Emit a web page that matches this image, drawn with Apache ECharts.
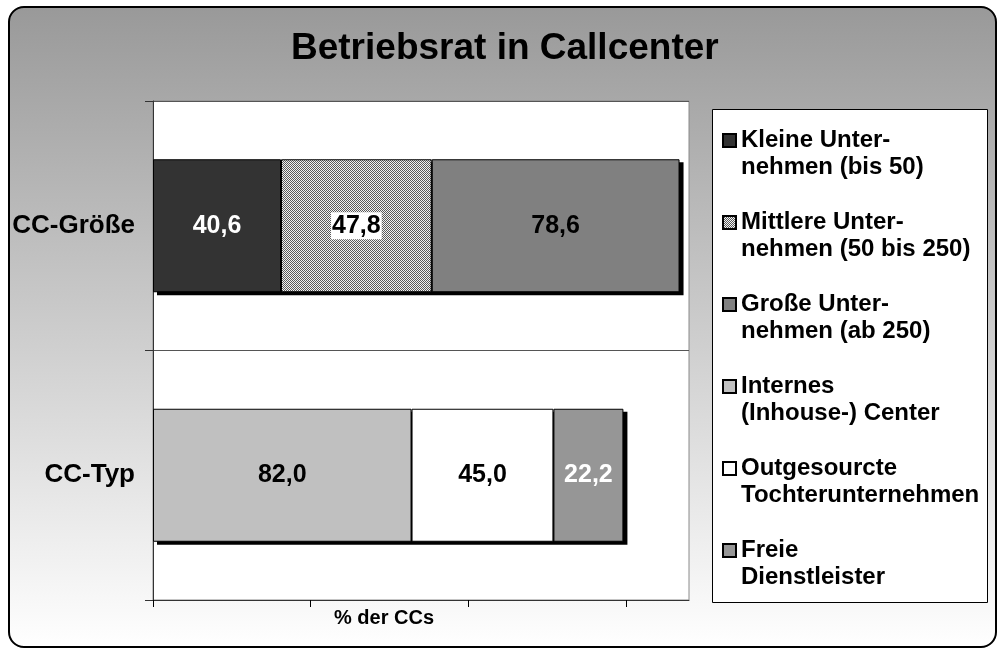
<!DOCTYPE html>
<html>
<head>
<meta charset="utf-8">
<script src="https://cdn.jsdelivr.net/npm/echarts@6/dist/echarts.min.js"></script>
<style>
html,body{margin:0;padding:0;background:#fff;}
#chart{width:998px;height:648px;}
</style>
</head>
<body>
<div id="chart"></div>
<script>
// ---- data ----
const titleText = 'Betriebsrat in Callcenter';
const categories = ['CC-Größe', 'CC-Typ'];
const seriesNames = [
  'Kleine Unter-\nnehmen (bis 50)',
  'Mittlere Unter-\nnehmen (50 bis 250)',
  'Große Unter-\nnehmen (ab 250)',
  'Internes\n(Inhouse-) Center',
  'Outgesourcte\nTochterunternehmen',
  'Freie\nDienstleister'
];
const kleine      = [40.6, null];
const mittlere    = [47.8, null];
const grosse      = [78.6, null];
const internes    = [null, 82.0];
const outgesourct = [null, 45.0];
const freie       = [null, 22.2];
const xTickValues = [0, 50, 100, 150];
const axisName = '% der CCs';

// ---- pattern for "Mittlere" ----
const pc = document.createElement('canvas');
pc.width = 2; pc.height = 2;
const pctx = pc.getContext('2d');
pctx.fillStyle = '#f2f2f2'; pctx.fillRect(0,0,2,2);
pctx.fillStyle = '#5a5a5a'; pctx.fillRect(0,0,1,1); pctx.fillRect(1,1,1,1);
const pattern = {image: pc, repeat: 'repeat'};

const FONT = 'Liberation Sans, Arial, Helvetica, sans-serif';
const fills = ['#333333', pattern, '#808080', '#c0c0c0', '#ffffff', '#969696'];
const labelColors = ['#fff', '#000', '#000', '#000', '#000', '#fff'];
const values = [kleine, mittlere, grosse, internes, outgesourct, freie];
const BAR_W = 133;

// totals per category (for the drop shadow behind each stacked bar)
const totals = categories.map((c, ci) => values.reduce((s, arr) => s + (arr[ci] || 0), 0));

const chart = echarts.init(document.getElementById('chart'), null, {renderer: 'canvas'});

const shadowSeries = {
  type: 'custom',
  silent: true,
  data: totals.map((t, i) => [t, i]),
  encode: {x: 0, y: 1},
  renderItem: (params, api) => {
    const end = api.coord([api.value(0), api.value(1)]);
    const start = api.coord([0, api.value(1)]);
    return {
      type: 'rect',
      shape: {x: start[0] + 4, y: end[1] - BAR_W / 2 + 3, width: end[0] - start[0], height: BAR_W},
      style: {fill: '#000'}
    };
  }
};

const series = values.map((v, i) => ({
  name: seriesNames[i],
  type: 'bar',
  stack: 'total',
  data: v,
  barWidth: BAR_W,
  itemStyle: {
    color: fills[i],
    borderColor: '#000',
    borderWidth: 1
  },
  label: {
    show: true,
    position: 'inside',
    fontFamily: FONT,
    fontWeight: 'bold',
    fontSize: 25,
    color: labelColors[i],
    backgroundColor: i === 1 ? '#fff' : 'transparent',
    padding: i === 1 ? [2, 1, 0, 1] : 0,
    formatter: p => p.value.toFixed(1).replace('.', ',')
  },
  emphasis: {disabled: true}
}));

chart.setOption({
  animation: false,
  backgroundColor: '#fff',
  graphic: [
    {
      type: 'rect', z: -10, silent: true,
      shape: {x: 9, y: 7, width: 987, height: 640, r: 15},
      style: {
        fill: new echarts.graphic.LinearGradient(0, 0, 0, 1, [
          {offset: 0, color: '#999999'},
          {offset: 1, color: '#ffffff'}
        ]),
        stroke: '#000', lineWidth: 2
      }
    },
    {
      type: 'rect', z: -5, silent: true,
      shape: {x: 712.5, y: 109.5, width: 275, height: 493},
      style: {fill: '#fff', stroke: '#000', lineWidth: 1}
    }
  ],
  title: {
    text: titleText,
    left: 291,
    top: 25,
    padding: [5, 0, 5, 0],
    textStyle: {fontFamily: FONT, fontWeight: 'bold', fontSize: 37, color: '#000'}
  },
  legend: {
    orient: 'vertical',
    left: 722,
    top: 100,
    padding: 0,
    itemWidth: 13,
    itemHeight: 13,
    itemGap: 1,
    icon: 'rect',
    selectedMode: false,
    data: seriesNames,
    formatter: name => '\n' + name,
    textStyle: {
      fontFamily: FONT, fontWeight: 'bold', fontSize: 24, color: '#000',
      lineHeight: 27
    }
  },
  grid: {
    left: 153, right: 309, top: 101, bottom: 48,
    show: true, backgroundColor: '#fff', borderColor: '#8a8a8a', borderWidth: 1,
    containLabel: false
  },
  xAxis: {
    type: 'value',
    min: 0, max: 170, interval: 50,
    name: axisName,
    nameLocation: 'middle',
    nameGap: 8,
    nameTextStyle: {
      fontFamily: FONT, fontWeight: 'bold', fontSize: 20, color: '#000',
      padding: [0, 74, 0, 0],
      verticalAlign: 'top'
    },
    axisLine: {show: true, lineStyle: {color: '#333', width: 1}},
    axisTick: {show: true, length: 7, inside: false, customValues: xTickValues, lineStyle: {color: '#000'}},
    axisLabel: {show: false},
    splitLine: {show: false}
  },
  yAxis: {
    type: 'category',
    inverse: true,
    data: categories,
    axisLine: {show: true, lineStyle: {color: '#333', width: 1}},
    axisTick: {show: true, length: 8, inside: false, alignWithLabel: false, lineStyle: {color: '#333'}},
    axisLabel: {fontFamily: FONT, fontWeight: 'bold', fontSize: 26, color: '#000', margin: 18},
    splitLine: {show: true, lineStyle: {color: '#555', width: 1}}
  },
  series: [shadowSeries].concat(series)
});
</script>
</body>
</html>
